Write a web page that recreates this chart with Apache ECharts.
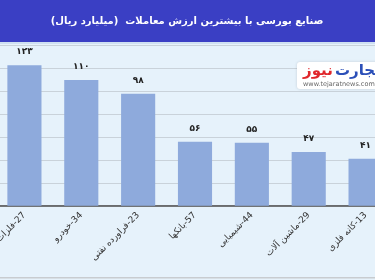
<!DOCTYPE html>
<html>
<head>
<meta charset="utf-8">
<script src="https://cdn.jsdelivr.net/npm/echarts@6/dist/echarts.min.js"></script>
<style>
html,body{margin:0;padding:0;background:#e6f2fb;}
#c{width:375px;height:280px;}
</style>
</head>
<body>
<div id="c"></div>
<script>
var categories = ['27-فلزات', '34-خودرو', '23-فراورده نفتی', '57-بانکها', '44-شیمیایی', '29-ماشین آلات', '13-کانه فلزی'];
var values = [123, 110, 98, 56, 55, 47, 41];
var yTicks = [0, 20, 40, 60, 80, 100, 120, 140];

var faDigits = '۰۱۲۳۴۵۶۷۸۹';
function toFa(n) { return String(n).replace(/[0-9]/g, function (d) { return faDigits[+d]; }); }
function rtl(s) { return '\u202B' + s + '\u202C'; }

var chart = echarts.init(document.getElementById('c'), null, { renderer: 'canvas' });
var FONT = '"DejaVu Sans", sans-serif';
chart.setOption({
  backgroundColor: '#e6f2fb',
  animation: false,
  grid: { left: -4, width: 398, top: 45.7, height: 160, containLabel: false, outerBoundsMode: 'none' },
  xAxis: {
    type: 'category',
    data: categories,
    axisLine: { lineStyle: { color: '#4a4a4a', width: 1.5 } },
    axisTick: { show: false },
    axisLabel: {
      rotate: 45, margin: 8, fontSize: 9, color: '#333', fontFamily: FONT,
      interval: 0, hideOverlap: false,
      formatter: function (v) { return rtl(v); }
    }
  },
  yAxis: {
    type: 'value', min: yTicks[0], max: yTicks[yTicks.length - 1], interval: 20,
    axisLabel: { show: false }, axisLine: { show: false }, axisTick: { show: false },
    splitLine: { lineStyle: { color: '#c9d2da', width: 1.2 } }
  },
  series: [{
    type: 'bar',
    data: values,
    barCategoryGap: '40%',
    itemStyle: { color: '#8eaadc' },
    label: {
      show: true, position: 'top', distance: 9, fontSize: 9, fontWeight: 'bold',
      color: '#222', fontFamily: FONT,
      formatter: function (p) { return toFa(p.value); }
    }
  }],
  graphic: [
    { type: 'rect', shape: { x: 0, y: 0, width: 375, height: 42 }, style: { fill: '#3a3fc4' }, z: 10 },
    { type: 'rect', shape: { x: 0, y: 42, width: 375, height: 2 }, style: { fill: '#cfe0f1' }, z: 10 },
    { type: 'text', x: 187, y: 21, z: 11, style: {
      text: rtl('صنایع بورسی با بیشترین ارزش معاملات  (میلیارد ریال)'),
      fill: '#ffffff', font: 'bold 10px ' + FONT, align: 'center', verticalAlign: 'middle' } },
    { type: 'rect', shape: { x: 297, y: 62, width: 90, height: 27, r: 3 }, z: 11,
      style: { fill: '#ffffff', shadowBlur: 3, shadowColor: 'rgba(0,0,0,0.15)' } },
    { type: 'text', x: 303, y: 71, z: 12, style: { text: 'نیوز', fill: '#e0262b', font: 'bold 15px ' + FONT, align: 'left', verticalAlign: 'middle' } },
    { type: 'text', x: 335, y: 71, z: 12, style: { text: 'تجارت', fill: '#2b4fb8', font: 'bold 15px ' + FONT, align: 'left', verticalAlign: 'middle' } },
    { type: 'text', x: 303, y: 84, z: 12, style: { text: 'www.tejaratnews.com', fill: '#666', font: '6.5px ' + FONT, align: 'left', verticalAlign: 'middle' } },
    { type: 'rect', shape: { x: 0, y: 277, width: 375, height: 1.5 }, style: { fill: '#c8ccd0' }, z: 10 }
  ]
});
</script>
</body>
</html>
